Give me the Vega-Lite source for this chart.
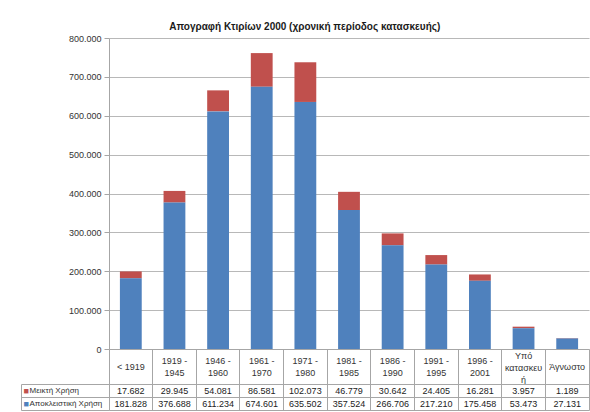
{
  "$schema": "https://vega.github.io/schema/vega-lite/v6.json",
  "background": "white",
  "padding": {"left": 20, "top": 22, "right": 0, "bottom": 0},
  "config": {
    "font": "Liberation Sans",
    "locale": {"number": {"decimal": ",", "thousands": ".", "grouping": [3], "currency": ["€", ""]}},
    "view": {"stroke": null}
  },
  "title": {
    "text": "Απογραφή Κτιρίων 2000 (χρονική περίοδος κατασκευής)",
    "fontSize": 10,
    "fontWeight": "bold",
    "color": "#1a1a1a",
    "anchor": "middle",
    "frame": "bounds",
    "offset": 2
  },
  "datasets": {
    "census": [
      {"period": "< 1919", "use": "Μεικτή Χρήση", "buildings": 17682},
      {"period": "< 1919", "use": "Αποκλειστική Χρήση", "buildings": 181828},
      {"period": "1919 - 1945", "use": "Μεικτή Χρήση", "buildings": 29945},
      {"period": "1919 - 1945", "use": "Αποκλειστική Χρήση", "buildings": 376688},
      {"period": "1946 - 1960", "use": "Μεικτή Χρήση", "buildings": 54081},
      {"period": "1946 - 1960", "use": "Αποκλειστική Χρήση", "buildings": 611234},
      {"period": "1961 - 1970", "use": "Μεικτή Χρήση", "buildings": 86581},
      {"period": "1961 - 1970", "use": "Αποκλειστική Χρήση", "buildings": 674601},
      {"period": "1971 - 1980", "use": "Μεικτή Χρήση", "buildings": 102073},
      {"period": "1971 - 1980", "use": "Αποκλειστική Χρήση", "buildings": 635502},
      {"period": "1981 - 1985", "use": "Μεικτή Χρήση", "buildings": 46779},
      {"period": "1981 - 1985", "use": "Αποκλειστική Χρήση", "buildings": 357524},
      {"period": "1986 - 1990", "use": "Μεικτή Χρήση", "buildings": 30642},
      {"period": "1986 - 1990", "use": "Αποκλειστική Χρήση", "buildings": 266706},
      {"period": "1991 - 1995", "use": "Μεικτή Χρήση", "buildings": 24405},
      {"period": "1991 - 1995", "use": "Αποκλειστική Χρήση", "buildings": 217210},
      {"period": "1996 - 2001", "use": "Μεικτή Χρήση", "buildings": 16281},
      {"period": "1996 - 2001", "use": "Αποκλειστική Χρήση", "buildings": 175458},
      {"period": "Υπό κατασκευή", "use": "Μεικτή Χρήση", "buildings": 3957},
      {"period": "Υπό κατασκευή", "use": "Αποκλειστική Χρήση", "buildings": 53473},
      {"period": "Άγνωστο", "use": "Μεικτή Χρήση", "buildings": 1189},
      {"period": "Άγνωστο", "use": "Αποκλειστική Χρήση", "buildings": 27131}
    ]
  },
  "data": {"name": "census"},
  "spacing": 35,
  "bounds": "flush",
  "vconcat": [
    {
      "width": 480,
      "height": 311,
      "layer": [
        {
          "mark": {"type": "bar", "width": {"band": 0.5}},
          "encoding": {
            "x": {
              "field": "period",
              "type": "nominal",
              "sort": null,
              "scale": {"paddingInner": 0, "paddingOuter": 0},
              "axis": {
                "title": null,
                "orient": "bottom",
                "bandPosition": 0,
                "tickSize": 35,
                "tickColor": "#a6a6a6",
                "domainColor": "#a6a6a6",
                "labelAngle": 0,
                "labelAlign": "center",
                "labelOffset": 0,
                "labelPadding": {
                  "condition": [
                    {"test": "datum.value == 'Υπό κατασκευή'", "value": -29},
                    {"test": "indexof(datum.value, ' - ') > 0", "value": -23.5}
                  ],
                  "value": -17.5
                },
                "labelBaseline": "middle",
                "labelFontSize": 9,
                "labelLineHeight": 12,
                "labelColor": "#333333",
                "labelOverlap": false,
                "labelBound": false,
                "labelExpr": "datum.label == 'Υπό κατασκευή' ? ['Υπό', 'κατασκευ', 'ή'] : (indexof(datum.label, ' - ') > 0 ? [substring(datum.label, 0, indexof(datum.label, ' - ') + 2), substring(datum.label, indexof(datum.label, ' - ') + 3)] : datum.label)"
              }
            },
            "y": {
              "field": "buildings",
              "type": "quantitative",
              "stack": "zero",
              "scale": {"domain": [0, 800000]},
              "axis": {
                "title": null,
                "values": [0, 100000, 200000, 300000, 400000, 500000, 600000, 700000, 800000],
                "format": ",d",
                "tickSize": 5,
                "tickColor": "#a6a6a6",
                "domainColor": "#a6a6a6",
                "gridColor": "#b8b8b8",
                "labelFontSize": 9,
                "labelPadding": 3,
                "labelColor": "#333333"
              }
            },
            "color": {
              "field": "use",
              "type": "nominal",
              "scale": {"domain": ["Μεικτή Χρήση", "Αποκλειστική Χρήση"], "range": ["#C0504D", "#4F81BD"]},
              "legend": null
            },
            "order": {"field": "use", "sort": "ascending"}
          }
        },
        {
          "mark": {"type": "point", "opacity": 0},
          "encoding": {
            "x": {
              "field": "period",
              "type": "nominal",
              "sort": null,
              "scale": {"type": "band", "paddingInner": 0, "paddingOuter": 0},
              "axis": {
                "title": null,
                "orient": "bottom",
                "bandPosition": 1,
                "tickSize": 35,
                "tickColor": "#a6a6a6",
                "domain": false,
                "labels": false
              }
            }
          }
        }
      ],
      "resolve": {"scale": {"x": "independent"}}
    },
    {
      "width": 480,
      "height": 26,
      "view": {"stroke": "#a6a6a6"},
      "layer": [
        {
          "mark": {"type": "text", "fontSize": 9, "color": "#222222"},
          "encoding": {
            "x": {
              "field": "period",
              "type": "nominal",
              "sort": null,
              "scale": {"type": "band", "paddingInner": 0, "paddingOuter": 0},
              "axis": {
                "title": null,
                "orient": "bottom",
                "bandPosition": 0,
                "grid": true,
                "gridColor": "#a6a6a6",
                "domain": false,
                "ticks": false,
                "labels": false
              }
            },
            "y": {
              "field": "use",
              "type": "nominal",
              "scale": {"type": "band", "domain": ["Μεικτή Χρήση", "Αποκλειστική Χρήση"], "paddingInner": 0, "paddingOuter": 0},
              "axis": {
                "title": null,
                "orient": "left",
                "bandPosition": 1,
                "domain": false,
                "tickSize": 88,
                "tickColor": "#a6a6a6",
                "labelPadding": -8,
                "labelAlign": "left",
                "labelBaseline": "middle",
                "labelOffset": 0,
                "labelFontSize": 8,
                "labelColor": "#333333",
                "labelOverlap": false,
                "labelBound": false
              }
            },
            "text": {"field": "buildings", "type": "quantitative", "format": ",d"}
          }
        },
        {
          "mark": {"type": "point", "opacity": 0},
          "encoding": {
            "y": {
              "field": "use",
              "type": "nominal",
              "scale": {"type": "band", "domain": ["Μεικτή Χρήση", "Αποκλειστική Χρήση"], "paddingInner": 0, "paddingOuter": 0},
              "axis": {
                "title": null,
                "orient": "left",
                "bandPosition": 0,
                "grid": true,
                "gridColor": "#a6a6a6",
                "domain": false,
                "tickSize": 88,
                "tickColor": "#a6a6a6",
                "labelExpr": "'■'",
                "labelPadding": -2,
                "labelAlign": "left",
                "labelBaseline": "middle",
                "labelOffset": 0,
                "labelFontSize": 9,
                "labelColor": {"condition": {"test": "datum.value == 'Μεικτή Χρήση'", "value": "#C0504D"}, "value": "#4F81BD"},
                "labelOverlap": false,
                "labelBound": false
              }
            }
          }
        },
        {
          "mark": {"type": "point", "opacity": 0},
          "encoding": {
            "y": {
              "field": "use",
              "type": "nominal",
              "scale": {"type": "band", "domain": ["Μεικτή Χρήση", "Αποκλειστική Χρήση"], "paddingInner": 0, "paddingOuter": 0},
              "axis": {
                "title": null,
                "orient": "left",
                "offset": 88,
                "domain": true,
                "domainColor": "#a6a6a6",
                "ticks": false,
                "labels": false
              }
            }
          }
        }
      ],
      "resolve": {"scale": {"y": "independent"}}
    }
  ]
}
